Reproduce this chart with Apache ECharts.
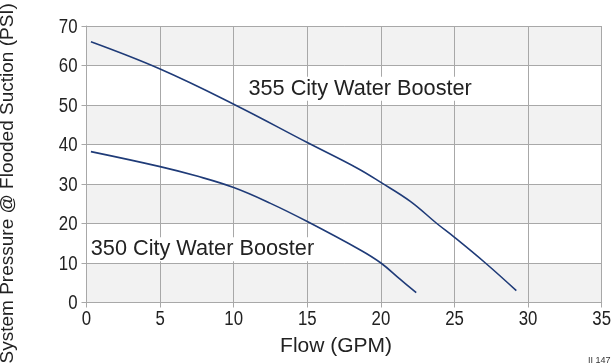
<!DOCTYPE html>
<html>
<head>
<meta charset="utf-8">
<script src="https://cdn.jsdelivr.net/npm/echarts@6/dist/echarts.min.js"></script>
<style>
html,body{margin:0;padding:0;background:#fff;}
#c{width:613px;height:364px;}
</style>
</head>
<body>
<div id="c"></div>
<script>
// Data
var flow355 = [0.3, 5, 10, 15, 18.4, 20, 22, 23.8, 25, 27.1, 29.2];
var psi355  = [66, 59.1, 50.2, 40.5, 34, 30.4, 25.6, 20, 16.5, 10, 3];
var flow350 = [0.3, 5, 7.5, 10, 12.5, 15, 18.6, 20, 21.3, 22.4];
var psi350  = [38.2, 34.4, 32.0, 29.1, 25.1, 20.5, 13.3, 10, 5.9, 2.5];
var seriesNames = ['355 City Water Booster', '350 City Water Booster'];
// annotation anchors (data coords: left edge x, vertical center y)
var labelAnchor355 = [11.0, 54.1];
var labelAnchor350 = [0.29, 13.5];
var xTicks = [0, 5, 10, 15, 20, 25, 30, 35];
var yTicks = [0, 10, 20, 30, 40, 50, 60, 70];

function pairs(xs, ys){ return xs.map(function(x,i){ return [x, ys[i]]; }); }

var tickFont = '"Liberation Sans", Arial, Helvetica, sans-serif';
var textFont = '"Liberation Sans", Arial, Helvetica, sans-serif';
var lineColor = '#1f3b78';
var gridColor = '#a8a8a8';
var textColor = '#222';

var chart = echarts.init(document.getElementById('c'), null, {renderer:'canvas'});
var option = {
  animation: false,
  backgroundColor: '#fff',
  grid: {left: 86.5, right: 11.3, top: 26, bottom: 61.5, containLabel: false, outerBoundsMode: 'none'},
  xAxis: {
    type: 'value', min: xTicks[0], max: xTicks[xTicks.length-1], interval: 5,
    name: 'Flow (GPM)', nameLocation: 'middle', nameGap: 33,
    nameTextStyle: {fontFamily: textFont, fontSize: 21, color: textColor, padding: [0, 16, 0, 0]},
    axisLine: {show: true, lineStyle: {color: gridColor, width: 1}},
    axisTick: {show: true, length: 5, lineStyle: {color: gridColor}},
    axisLabel: {show: false},
    splitLine: {show: true, lineStyle: {color: gridColor, width: 1}}
  },
  yAxis: {
    type: 'value', min: yTicks[0], max: yTicks[yTicks.length-1], interval: 10,
    name: 'System Pressure @ Flooded Suction (PSI)', nameLocation: 'middle', nameGap: 69,
    nameTextStyle: {fontFamily: textFont, fontSize: 19, color: textColor, padding: [0, 38, 0, 0]},
    axisLine: {show: true, lineStyle: {color: gridColor, width: 1}},
    axisTick: {show: true, length: 5, lineStyle: {color: gridColor}},
    axisLabel: {show: false},
    splitLine: {show: true, lineStyle: {color: gridColor, width: 1}},
    splitArea: {show: true, areaStyle: {color: ['#f2f2f2', '#ffffff']}}
  },
  series: [
    {name: seriesNames[0], type: 'line', data: pairs(flow355, psi355), showSymbol: false,
     smooth: 0.4, lineStyle: {color: lineColor, width: 1.6}, z: 3},
    {name: seriesNames[1], type: 'line', data: pairs(flow350, psi350), showSymbol: false,
     smooth: 0.4, lineStyle: {color: lineColor, width: 1.6}, z: 3}
  ]
};
chart.setOption(option);

var graphics = [];
// condensed tick labels (horizontally scaled real text), placed via the axes' scales
xTicks.forEach(function(v){
  var p = chart.convertToPixel({gridIndex: 0}, [v, 0]);
  graphics.push({type: 'text', x: p[0], y: p[1] + 7, scaleX: 0.84, z: 10,
    style: {text: String(v), font: '20px ' + tickFont, fill: textColor, align: 'center', verticalAlign: 'top'}});
});
yTicks.forEach(function(v){
  var p = chart.convertToPixel({gridIndex: 0}, [0, v]);
  graphics.push({type: 'text', x: p[0] - 9, y: p[1] + 1, scaleX: 0.84, z: 10,
    style: {text: String(v), font: '20px ' + tickFont, fill: textColor, align: 'right', verticalAlign: 'middle'}});
});
var p355 = chart.convertToPixel({gridIndex: 0}, labelAnchor355);
var p350 = chart.convertToPixel({gridIndex: 0}, labelAnchor350);
graphics.push(
  {type: 'text', x: p355[0], y: p355[1], z: 10,
   style: {text: seriesNames[0], font: '21.7px ' + textFont, fill: textColor, verticalAlign: 'middle',
           backgroundColor: '#fff', padding: [1, 2, 1, 0]}},
  {type: 'text', x: p350[0], y: p350[1], z: 10,
   style: {text: seriesNames[1], font: '21.7px ' + textFont, fill: textColor, verticalAlign: 'middle',
           backgroundColor: '#fff', padding: [1, 2, 1, 0]}},
  {type: 'text', x: 588, y: 356, z: 10,
   style: {text: 'II 147', font: '9px ' + textFont, fill: '#333'}}
);
chart.setOption({graphic: graphics});
</script>
</body>
</html>
